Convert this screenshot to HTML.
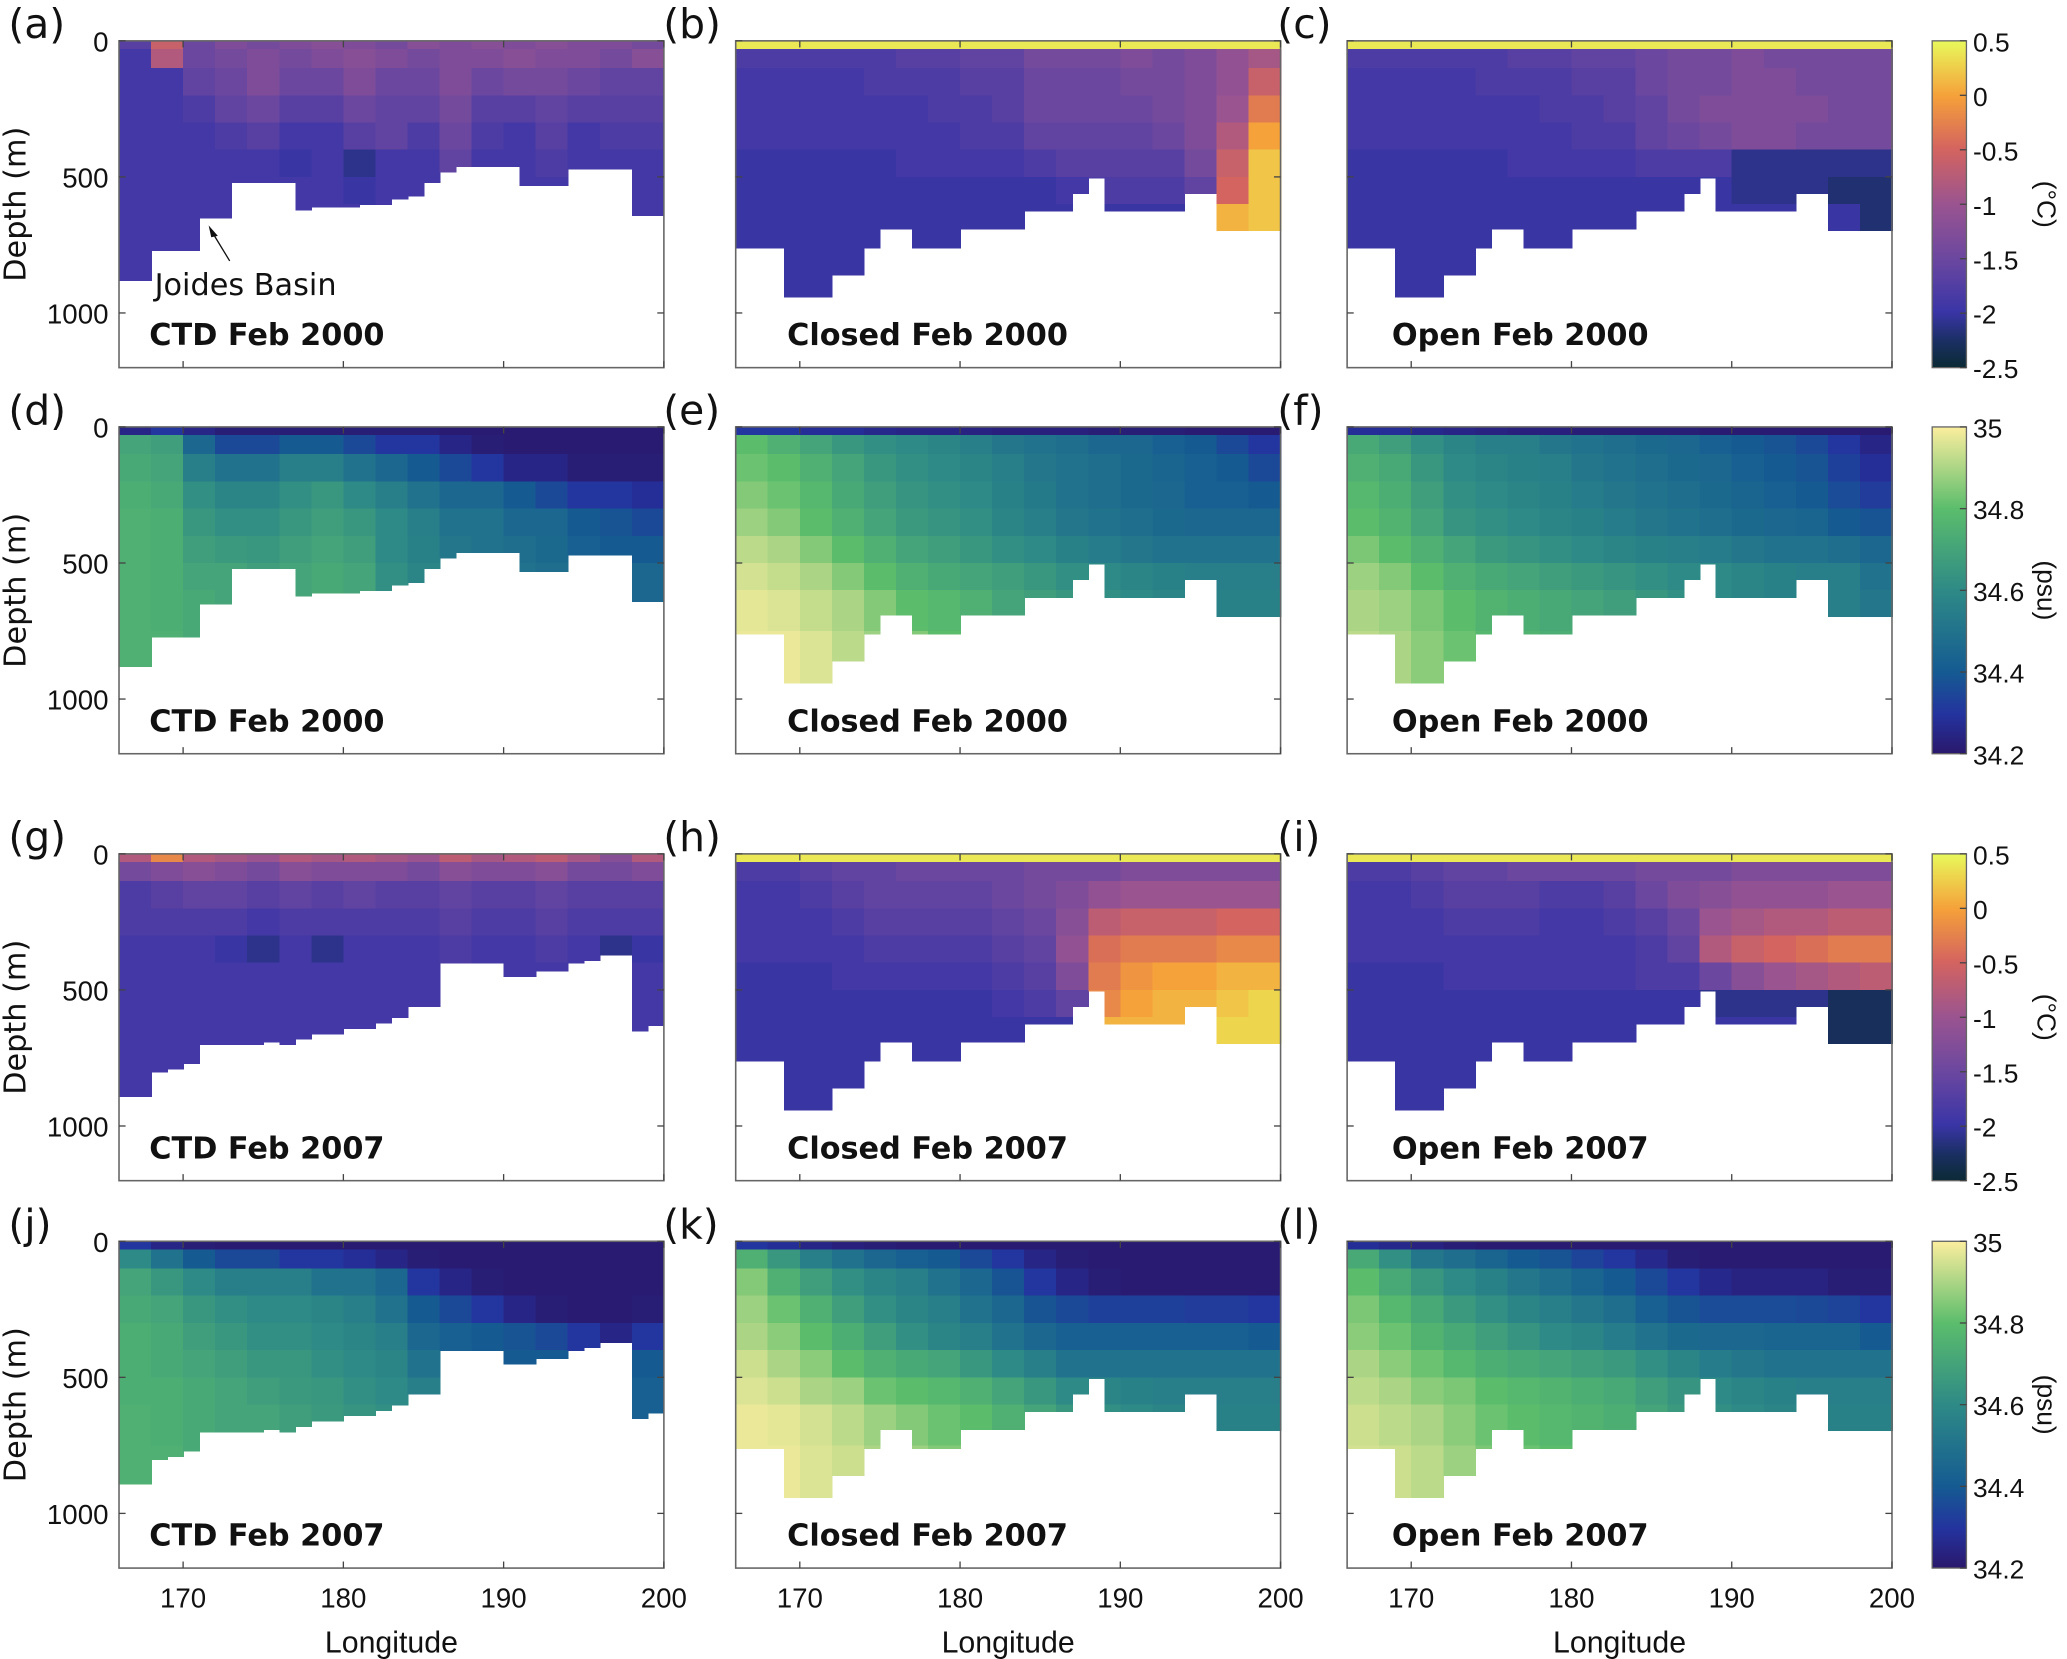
<!DOCTYPE html>
<html><head><meta charset="utf-8"><style>
html,body{margin:0;padding:0;background:#fff;}
svg{display:block;}
text{font-family:"DejaVu Sans","Liberation Sans",sans-serif;fill:#111;}
.cb{font-family:"Liberation Sans",sans-serif;}
</style></head><body>
<svg id="fig" width="2067" height="1659" viewBox="0 0 1568 1259" xmlns="http://www.w3.org/2000/svg">
<defs>
<linearGradient id="gT" x1="0" y1="1" x2="0" y2="0">
<stop offset="0" stop-color="#0b2a35"/><stop offset="0.08" stop-color="#1a2f62"/><stop offset="0.17" stop-color="#3a35a6"/><stop offset="0.33" stop-color="#6a47a0"/><stop offset="0.5" stop-color="#9a5490"/><stop offset="0.67" stop-color="#d4645f"/><stop offset="0.83" stop-color="#f5a03a"/><stop offset="1" stop-color="#e8f95b"/>
</linearGradient>
<linearGradient id="gS" x1="0" y1="1" x2="0" y2="0">
<stop offset="0" stop-color="#2a186c"/><stop offset="0.12" stop-color="#24339e"/><stop offset="0.25" stop-color="#155b92"/><stop offset="0.5" stop-color="#2e8a86"/><stop offset="0.75" stop-color="#5bbd6c"/><stop offset="1" stop-color="#fbee9e"/>
</linearGradient>
</defs>
<g id="plots"></g>
</svg>
<script>
// Data: depth layer edges (m), longitude bins (2 degree), bathymetry per 1 degree column
const layerEdges=[0,30,100,200,300,400,500,600,750,1000];
const lonStart=166, lonEnd=200;
const xTicks=[170,180,190,200];
const yTicks=[0,500,1000];
const tempTicks=[0.5,0,-0.5,-1,-1.5,-2,-2.5];
const salTicks=[35,34.8,34.6,34.4,34.2];
const bathyCTD2000=[880,880,770,770,770,650,650,520,520,520,520,620,610,610,610,600,600,580,570,520,480,460,460,460,460,530,530,530,470,470,470,470,640,640];
const bathyCTD2007=[890,890,800,790,770,700,700,700,700,690,700,680,660,660,640,640,620,600,560,560,400,400,400,400,450,450,430,430,400,390,370,370,650,630];
const bathyModel=[760,760,760,940,940,940,860,860,760,690,690,760,760,760,690,690,690,690,625,625,625,560,503,625,625,625,625,625,560,560,695,695,695,695];
const tA=[[-1.7,-0.6,-1.5,-1.3,-1.4,-1.3,-1.2,-1.3,-1.4,-1.2,-1.3,-1.2,-1.3,-1.2,-1.3,-1.3,-1.4],[-1.9,-0.8,-1.5,-1.4,-1.3,-1.4,-1.3,-1.2,-1.3,-1.4,-1.3,-1.3,-1.2,-1.3,-1.3,-1.4,-1.2],[-1.9,-1.9,-1.6,-1.5,-1.3,-1.5,-1.5,-1.3,-1.5,-1.5,-1.3,-1.5,-1.4,-1.4,-1.5,-1.6,-1.6],[-1.9,-1.9,-1.8,-1.6,-1.5,-1.7,-1.7,-1.5,-1.6,-1.6,-1.4,-1.7,-1.7,-1.6,-1.7,-1.7,-1.7],[-1.9,-1.9,-1.9,-1.8,-1.7,-1.9,-1.9,-1.7,-1.6,-1.8,-1.5,-1.8,-1.9,-1.7,-1.9,-1.8,-1.8],[-1.9,-1.9,-1.9,-1.9,-1.9,-2.0,-1.9,-2.1,-1.9,-1.9,-1.6,-1.9,-1.9,-1.8,-1.9,-1.9,-1.9],[-1.9,-1.9,-1.9,-1.9,-1.9,-1.9,-1.9,-2.0,-1.9,-1.9,-1.9,-1.9,-1.9,-1.9,-1.9,-1.9,-1.9],[-1.9,-1.9,-1.9,-1.9,-1.9,-1.9,-1.9,-1.9,-1.9,-1.9,-1.9,-1.9,-1.9,-1.9,-1.9,-1.9,-1.9],[-1.9,-1.9,-1.9,-1.9,-1.9,-1.9,-1.9,-1.9,-1.9,-1.9,-1.9,-1.9,-1.9,-1.9,-1.9,-1.9,-1.9]];
const tB=[[0.4,0.4,0.4,0.4,0.4,0.4,0.4,0.4,0.4,0.4,0.4,0.4,0.4,0.4,0.4,0.4,0.4],[-1.8,-1.8,-1.8,-1.8,-1.8,-1.7,-1.7,-1.6,-1.6,-1.4,-1.4,-1.4,-1.3,-1.4,-1.3,-1.1,-0.9],[-1.9,-1.9,-1.9,-1.9,-1.8,-1.8,-1.8,-1.7,-1.7,-1.5,-1.5,-1.5,-1.4,-1.4,-1.3,-1.1,-0.6],[-1.9,-1.9,-1.9,-1.9,-1.9,-1.9,-1.8,-1.8,-1.7,-1.5,-1.5,-1.5,-1.5,-1.4,-1.3,-1.0,-0.3],[-1.9,-1.9,-1.9,-1.9,-1.9,-1.9,-1.9,-1.8,-1.8,-1.6,-1.6,-1.6,-1.6,-1.5,-1.3,-0.8,0.0],[-2,-2,-2,-2,-2,-1.9,-1.9,-1.9,-1.9,-1.8,-1.7,-1.7,-1.7,-1.7,-1.4,-0.6,0.2],[-2,-2,-2,-2,-2,-2,-2,-2,-2,-2,-1.9,-1.8,-1.8,-1.8,-1.6,-0.5,0.2],[-2,-2,-2,-2,-2,-2,-2,-2,-2,-2,-2,-2,-2,-2,-2,0.1,0.2],[-2,-2,-2,-2,-2,-2,-2,-2,-2,-2,-2,-2,-2,-2,-2,-2,-2]];
const tC=[[0.4,0.4,0.4,0.4,0.4,0.4,0.4,0.4,0.4,0.4,0.4,0.4,0.4,0.4,0.4,0.4,0.4],[-1.8,-1.8,-1.8,-1.8,-1.8,-1.7,-1.7,-1.6,-1.6,-1.5,-1.4,-1.4,-1.3,-1.4,-1.4,-1.4,-1.4],[-1.9,-1.9,-1.9,-1.9,-1.8,-1.8,-1.8,-1.7,-1.7,-1.5,-1.4,-1.4,-1.3,-1.3,-1.4,-1.4,-1.4],[-1.9,-1.9,-1.9,-1.9,-1.9,-1.9,-1.8,-1.8,-1.7,-1.6,-1.4,-1.3,-1.3,-1.3,-1.3,-1.4,-1.4],[-1.9,-1.9,-1.9,-1.9,-1.9,-1.9,-1.9,-1.8,-1.8,-1.6,-1.5,-1.4,-1.3,-1.3,-1.4,-1.4,-1.4],[-2,-2,-2,-2,-2,-1.9,-1.9,-1.9,-1.9,-1.8,-1.8,-1.8,-2.1,-2.1,-2.1,-2.1,-2.1],[-2,-2,-2,-2,-2,-2,-2,-2,-2,-2,-2,-2,-2.1,-2.1,-2.1,-2.2,-2.2],[-2,-2,-2,-2,-2,-2,-2,-2,-2,-2,-2,-2,-2,-2,-2,-2,-2.2],[-2,-2,-2,-2,-2,-2,-2,-2,-2,-2,-2,-2,-2,-2,-2,-2,-2]];
const tG=[[-0.8,-0.2,-0.8,-0.9,-1.0,-0.8,-0.9,-0.8,-0.9,-1.0,-0.7,-0.9,-0.8,-0.7,-0.9,-1.2,-0.8],[-1.4,-1.3,-1.2,-1.3,-1.4,-1.2,-1.3,-1.3,-1.3,-1.4,-1.2,-1.3,-1.3,-1.2,-1.4,-1.4,-1.3],[-1.8,-1.7,-1.6,-1.6,-1.7,-1.6,-1.7,-1.6,-1.7,-1.7,-1.6,-1.7,-1.7,-1.6,-1.7,-1.7,-1.7],[-1.8,-1.8,-1.8,-1.8,-1.9,-1.8,-1.8,-1.8,-1.8,-1.8,-1.7,-1.8,-1.8,-1.7,-1.8,-1.8,-1.8],[-1.9,-1.9,-1.9,-2.0,-2.1,-1.9,-2.1,-1.9,-1.9,-1.9,-1.8,-1.9,-1.9,-1.8,-1.9,-2.1,-2.0],[-1.9,-1.9,-1.9,-1.9,-1.9,-1.9,-1.9,-1.9,-1.9,-1.9,-1.9,-1.9,-1.9,-1.9,-1.9,-1.9,-1.9],[-1.9,-1.9,-1.9,-1.9,-1.9,-1.9,-1.9,-1.9,-1.9,-1.9,-1.9,-1.9,-1.9,-1.9,-1.9,-1.9,-1.9],[-1.9,-1.9,-1.9,-1.9,-1.9,-1.9,-1.9,-1.9,-1.9,-1.9,-1.9,-1.9,-1.9,-1.9,-1.9,-1.9,-1.9],[-1.9,-1.9,-1.9,-1.9,-1.9,-1.9,-1.9,-1.9,-1.9,-1.9,-1.9,-1.9,-1.9,-1.9,-1.9,-1.9,-1.9]];
const tH=[[0.4,0.4,0.4,0.4,0.4,0.4,0.4,0.4,0.4,0.4,0.4,0.4,0.4,0.4,0.4,0.4,0.4],[-1.8,-1.8,-1.7,-1.6,-1.6,-1.5,-1.5,-1.5,-1.5,-1.4,-1.4,-1.4,-1.3,-1.3,-1.3,-1.3,-1.3],[-1.9,-1.9,-1.8,-1.7,-1.6,-1.6,-1.6,-1.6,-1.5,-1.4,-1.3,-1.1,-1.0,-1.0,-1.0,-1.0,-1.0],[-1.9,-1.9,-1.9,-1.8,-1.7,-1.7,-1.7,-1.7,-1.6,-1.5,-1.2,-0.7,-0.6,-0.6,-0.6,-0.5,-0.5],[-1.9,-1.9,-1.9,-1.9,-1.8,-1.8,-1.8,-1.8,-1.7,-1.6,-1.1,-0.4,-0.3,-0.3,-0.3,-0.2,-0.2],[-2,-2,-2,-1.9,-1.9,-1.9,-1.9,-1.9,-1.8,-1.7,-1.3,-0.3,-0.1,0,0,0.1,0.1],[-2,-2,-2,-2,-2,-2,-2,-2,-1.9,-1.8,-1.6,-0.2,0,0.1,0.1,0.2,0.3],[-2,-2,-2,-2,-2,-2,-2,-2,-2,-2,-2,0.1,0.1,0.1,0.2,0.3,0.3],[-2,-2,-2,-2,-2,-2,-2,-2,-2,-2,-2,-2,-2,-2,-2,-2,-2]];
const tI=[[0.4,0.4,0.4,0.4,0.4,0.4,0.4,0.4,0.4,0.4,0.4,0.4,0.4,0.4,0.4,0.4,0.4],[-1.8,-1.8,-1.7,-1.6,-1.6,-1.5,-1.5,-1.5,-1.5,-1.4,-1.4,-1.4,-1.3,-1.3,-1.3,-1.3,-1.3],[-1.9,-1.9,-1.8,-1.7,-1.7,-1.7,-1.8,-1.8,-1.7,-1.5,-1.3,-1.2,-1.1,-1.1,-1.1,-1.0,-1.0],[-1.9,-1.9,-1.9,-1.8,-1.8,-1.8,-1.9,-1.9,-1.8,-1.7,-1.5,-1.0,-0.9,-0.8,-0.8,-0.7,-0.7],[-1.9,-1.9,-1.9,-1.9,-1.9,-1.9,-1.9,-1.9,-1.9,-1.8,-1.6,-0.8,-0.6,-0.5,-0.4,-0.3,-0.3],[-2,-2,-2,-1.9,-1.9,-1.9,-1.9,-1.9,-1.9,-1.8,-1.8,-1.5,-1.2,-1.0,-0.9,-0.8,-0.7],[-2,-2,-2,-2,-2,-2,-2,-2,-2,-2,-2,-2.1,-2.1,-2.1,-2.1,-2.3,-2.3],[-2,-2,-2,-2,-2,-2,-2,-2,-2,-2,-2,-2,-2,-2,-2,-2.3,-2.3],[-2,-2,-2,-2,-2,-2,-2,-2,-2,-2,-2,-2,-2,-2,-2,-2,-2]];
const sD=[[34.25,34.3,34.25,34.22,34.22,34.22,34.22,34.22,34.22,34.22,34.21,34.21,34.21,34.21,34.21,34.21,34.21],[34.7,34.68,34.45,34.35,34.35,34.4,34.4,34.35,34.3,34.3,34.25,34.22,34.21,34.21,34.21,34.21,34.21],[34.72,34.7,34.55,34.5,34.5,34.55,34.55,34.5,34.45,34.4,34.35,34.3,34.25,34.25,34.22,34.22,34.22],[34.74,34.72,34.62,34.58,34.58,34.62,34.65,34.6,34.55,34.5,34.45,34.45,34.4,34.35,34.3,34.3,34.28],[34.75,34.74,34.65,34.62,34.62,34.65,34.68,34.65,34.6,34.55,34.5,34.5,34.45,34.45,34.4,34.38,34.35],[34.75,34.74,34.68,34.66,34.65,34.68,34.7,34.68,34.6,34.56,34.52,34.5,34.48,34.46,34.42,34.4,34.4],[34.75,34.74,34.7,34.7,34.68,34.7,34.72,34.7,34.62,34.58,34.55,34.52,34.5,34.48,34.45,34.45,34.45],[34.75,34.74,34.72,34.7,34.7,34.7,34.72,34.7,34.65,34.6,34.55,34.52,34.5,34.48,34.45,34.45,34.45],[34.75,34.75,34.72,34.7,34.7,34.7,34.72,34.7,34.65,34.6,34.55,34.52,34.5,34.48,34.45,34.45,34.45]];
const sE=[[34.3,34.3,34.28,34.28,34.26,34.25,34.25,34.24,34.23,34.23,34.23,34.22,34.22,34.22,34.21,34.21,34.21],[34.8,34.75,34.7,34.65,34.62,34.6,34.58,34.55,34.52,34.5,34.48,34.45,34.45,34.42,34.4,34.35,34.3],[34.82,34.8,34.75,34.7,34.65,34.62,34.6,34.58,34.55,34.52,34.5,34.48,34.46,34.44,34.42,34.4,34.35],[34.85,34.82,34.78,34.72,34.68,34.64,34.62,34.6,34.56,34.53,34.5,34.48,34.46,34.45,34.42,34.42,34.4],[34.88,34.85,34.8,34.75,34.7,34.66,34.64,34.62,34.58,34.55,34.52,34.5,34.48,34.46,34.45,34.45,34.45],[34.92,34.9,34.85,34.8,34.75,34.7,34.68,34.65,34.62,34.6,34.56,34.54,34.52,34.5,34.5,34.5,34.5],[34.95,34.93,34.9,34.85,34.8,34.75,34.72,34.7,34.68,34.65,34.62,34.6,34.58,34.56,34.55,34.55,34.55],[34.97,34.96,34.93,34.9,34.85,34.8,34.78,34.75,34.7,34.68,34.65,34.62,34.6,34.58,34.56,34.56,34.56],[34.98,34.98,34.96,34.92,34.88,34.85,34.8,34.78,34.75,34.7,34.68,34.65,34.62,34.6,34.58,34.58,34.58]];
const sF=[[34.28,34.28,34.26,34.25,34.24,34.23,34.23,34.22,34.22,34.22,34.22,34.21,34.21,34.21,34.21,34.21,34.21],[34.72,34.68,34.62,34.58,34.55,34.55,34.52,34.5,34.48,34.46,34.45,34.42,34.4,34.38,34.35,34.3,34.25],[34.75,34.72,34.65,34.6,34.58,34.56,34.55,34.52,34.5,34.48,34.46,34.45,34.42,34.4,34.38,34.33,34.28],[34.78,34.74,34.68,34.62,34.6,34.58,34.56,34.54,34.52,34.5,34.48,34.46,34.44,34.42,34.4,34.36,34.32],[34.8,34.76,34.7,34.64,34.62,34.6,34.58,34.56,34.54,34.52,34.5,34.48,34.46,34.45,34.44,34.4,34.38],[34.84,34.8,34.75,34.7,34.66,34.64,34.62,34.6,34.58,34.56,34.55,34.54,34.52,34.5,34.5,34.48,34.45],[34.88,34.85,34.8,34.75,34.72,34.7,34.68,34.66,34.64,34.62,34.6,34.6,34.58,34.56,34.55,34.55,34.5],[34.9,34.88,34.84,34.8,34.76,34.74,34.72,34.7,34.68,34.65,34.62,34.6,34.58,34.56,34.55,34.55,34.52],[34.92,34.9,34.86,34.82,34.78,34.76,34.74,34.72,34.7,34.66,34.64,34.62,34.6,34.58,34.56,34.56,34.52]];
const sJ=[[34.3,34.25,34.22,34.21,34.21,34.21,34.21,34.21,34.21,34.21,34.21,34.21,34.21,34.21,34.21,34.21,34.21],[34.6,34.5,34.4,34.35,34.35,34.3,34.3,34.28,34.25,34.22,34.21,34.21,34.21,34.21,34.21,34.21,34.21],[34.7,34.65,34.6,34.55,34.55,34.55,34.5,34.5,34.45,34.3,34.25,34.22,34.21,34.21,34.21,34.21,34.21],[34.72,34.7,34.65,34.62,34.6,34.6,34.58,34.55,34.5,34.4,34.35,34.3,34.25,34.22,34.21,34.21,34.22],[34.74,34.72,34.68,34.65,34.62,34.62,34.6,34.58,34.55,34.45,34.42,34.4,34.38,34.35,34.3,34.25,34.3],[34.74,34.72,34.7,34.68,34.65,34.65,34.62,34.6,34.58,34.5,34.45,34.42,34.4,34.4,34.4,34.35,34.4],[34.74,34.74,34.72,34.7,34.68,34.66,34.65,34.62,34.6,34.55,34.5,34.45,34.42,34.42,34.42,34.4,34.42],[34.75,34.74,34.72,34.7,34.7,34.68,34.66,34.64,34.62,34.55,34.5,34.45,34.42,34.42,34.42,34.4,34.42],[34.75,34.75,34.72,34.7,34.7,34.68,34.66,34.64,34.62,34.55,34.5,34.45,34.42,34.42,34.42,34.4,34.42]];
const sK=[[34.3,34.28,34.25,34.23,34.22,34.21,34.21,34.21,34.21,34.21,34.21,34.21,34.21,34.21,34.21,34.21,34.21],[34.75,34.65,34.55,34.5,34.45,34.42,34.4,34.35,34.3,34.25,34.22,34.21,34.21,34.21,34.21,34.21,34.21],[34.85,34.75,34.68,34.62,34.58,34.55,34.5,34.45,34.38,34.3,34.25,34.22,34.21,34.21,34.21,34.21,34.21],[34.88,34.82,34.75,34.68,34.62,34.58,34.55,34.5,34.45,34.38,34.35,34.33,34.33,34.33,34.32,34.32,34.3],[34.9,34.86,34.8,34.74,34.68,34.62,34.58,34.55,34.5,34.45,34.42,34.42,34.42,34.42,34.42,34.42,34.4],[34.94,34.9,34.86,34.8,34.75,34.72,34.7,34.65,34.6,34.55,34.5,34.5,34.5,34.5,34.5,34.5,34.5],[34.96,34.94,34.9,34.88,34.82,34.8,34.78,34.75,34.7,34.65,34.6,34.58,34.56,34.55,34.55,34.55,34.55],[34.98,34.97,34.95,34.92,34.88,34.85,34.82,34.8,34.75,34.7,34.65,34.62,34.6,34.58,34.56,34.56,34.56],[34.98,34.98,34.96,34.94,34.9,34.88,34.85,34.82,34.78,34.72,34.68,34.64,34.62,34.6,34.58,34.58,34.58]];
const sL=[[34.28,34.26,34.24,34.22,34.21,34.21,34.21,34.21,34.21,34.21,34.21,34.21,34.21,34.21,34.21,34.21,34.21],[34.72,34.62,34.52,34.48,34.44,34.4,34.38,34.34,34.3,34.26,34.22,34.21,34.21,34.21,34.21,34.21,34.21],[34.8,34.72,34.65,34.6,34.56,34.52,34.48,34.44,34.4,34.35,34.3,34.26,34.24,34.24,34.24,34.22,34.22],[34.84,34.78,34.72,34.66,34.62,34.58,34.55,34.52,34.48,34.42,34.38,34.36,34.36,34.36,34.35,34.34,34.3],[34.86,34.82,34.76,34.72,34.68,34.64,34.6,34.58,34.54,34.5,34.46,34.45,34.45,34.44,34.44,34.44,34.4],[34.9,34.86,34.82,34.78,34.74,34.72,34.7,34.68,34.66,34.62,34.58,34.54,34.52,34.5,34.5,34.5,34.5],[34.92,34.9,34.86,34.84,34.8,34.78,34.76,34.74,34.72,34.68,34.64,34.6,34.58,34.56,34.55,34.55,34.55],[34.94,34.92,34.9,34.86,34.82,34.8,34.78,34.76,34.74,34.7,34.66,34.62,34.6,34.58,34.56,34.56,34.56],[34.95,34.94,34.92,34.88,34.84,34.82,34.8,34.78,34.76,34.72,34.68,34.64,34.62,34.6,34.58,34.58,34.58]];

const NS='http://www.w3.org/2000/svg';
const root=document.getElementById('plots');
const colX=[90,558,1022], rowY=[31,324,648,942];
const titleDX=[23,39,34];
const PW=413.5, PH=248, pxPerM=0.2065;
function mk(tag,attrs,parent){const e=document.createElementNS(NS,tag);for(const k in attrs)e.setAttribute(k,attrs[k]);(parent||root).appendChild(e);return e;}
function hex(h){return [parseInt(h.slice(1,3),16),parseInt(h.slice(3,5),16),parseInt(h.slice(5,7),16)];}
const tStops=[[0,'#0b2a35'],[0.08,'#1a2f62'],[0.17,'#3a35a6'],[0.33,'#6a47a0'],[0.5,'#9a5490'],[0.67,'#d4645f'],[0.83,'#f5a03a'],[1,'#e8f95b']];
const sStops=[[0,'#2a186c'],[0.12,'#24339e'],[0.25,'#155b92'],[0.5,'#2e8a86'],[0.75,'#5bbd6c'],[1,'#fbee9e']];
function cmap(stops,t){t=Math.max(0,Math.min(1,t));for(let i=1;i<stops.length;i++){if(t<=stops[i][0]){const a=stops[i-1],b=stops[i];const f=(t-a[0])/(b[0]-a[0]);const ca=hex(a[1]),cb=hex(b[1]);return 'rgb('+ca.map((v,j)=>Math.round(v+(cb[j]-v)*f)).join(',')+')';}}return stops[stops.length-1][1];}
function color(kind,v){return kind==='T'?cmap(tStops,(v+2.5)/3):cmap(sStops,(v-34.2)/0.8);}

const panels=[
{l:'(a)',c:0,r:0,k:'T',g:tA,b:bathyCTD2000,t:'CTD  Feb 2000'},
{l:'(b)',c:1,r:0,k:'T',g:tB,b:bathyModel,t:'Closed Feb 2000'},
{l:'(c)',c:2,r:0,k:'T',g:tC,b:bathyModel,t:'Open Feb 2000'},
{l:'(d)',c:0,r:1,k:'S',g:sD,b:bathyCTD2000,t:'CTD  Feb 2000'},
{l:'(e)',c:1,r:1,k:'S',g:sE,b:bathyModel,t:'Closed Feb 2000'},
{l:'(f)',c:2,r:1,k:'S',g:sF,b:bathyModel,t:'Open  Feb 2000'},
{l:'(g)',c:0,r:2,k:'T',g:tG,b:bathyCTD2007,t:'CTD Feb 2007'},
{l:'(h)',c:1,r:2,k:'T',g:tH,b:bathyModel,t:'Closed Feb 2007'},
{l:'(i)',c:2,r:2,k:'T',g:tI,b:bathyModel,t:'Open Feb 2007'},
{l:'(j)',c:0,r:3,k:'S',g:sJ,b:bathyCTD2007,t:'CTD Feb 2007'},
{l:'(k)',c:1,r:3,k:'S',g:sK,b:bathyModel,t:'Closed Feb 2007'},
{l:'(l)',c:2,r:3,k:'S',g:sL,b:bathyModel,t:'Open Feb 2007'}];

panels.forEach(p=>{
  const x0=colX[p.c], y0=rowY[p.r];
  const xs=lon=>x0+(lon-lonStart)*PW/(lonEnd-lonStart);
  const ys=d=>y0+d*pxPerM;
  const g=mk('g',{});
  
  
  const cells=mk('g',{'shape-rendering':'crispEdges'},g);
  for(let i=0;i<p.b.length;i++){
    const bottom=p.b[i];
    for(let k=0;k<layerEdges.length-1;k++){
      const top=layerEdges[k]; if(top>=bottom) break;
      const bot=Math.min(bottom,layerEdges[k+1]);
      const v=p.g[k][Math.floor(i/2)];
      const r=mk('rect',{x:xs(lonStart+i),y:ys(top),width:xs(lonStart+i+1)-xs(lonStart+i)+0.6,height:ys(bot)-ys(top)+0.6,fill:color(p.k,v)},cells);
      
      
    }
  }
  const box=mk('rect',{x:x0,y:y0,width:PW,height:PH,fill:'none',stroke:'#666','stroke-width':1.2},g);
  
  
  xTicks.forEach(t=>{const x=xs(t);mk('line',{x1:x,x2:x,y1:y0+PH,y2:y0+PH-5,stroke:'#444'},g);mk('line',{x1:x,x2:x,y1:y0,y2:y0+5,stroke:'#444'},g);
    if(p.r===3){const tx=mk('text',{x:x,y:y0+PH+30,'text-anchor':'middle','font-size':21,class:'cb'},g);tx.textContent=t;
      
      }});
  yTicks.forEach(t=>{const y=ys(t);mk('line',{x1:x0,x2:x0+5,y1:y,y2:y,stroke:'#444'},g);mk('line',{x1:x0+PW,x2:x0+PW-5,y1:y,y2:y,stroke:'#444'},g);
    if(p.c===0){const tx=mk('text',{x:x0-8,y:y+8,'text-anchor':'end','font-size':21,class:'cb'},g);tx.textContent=t;
      
      }});
  const lt=mk('text',{x:p.c===0?6:(p.c===1?503:969),y:y0-2,'font-size':31},g);lt.textContent=p.l;
  
  
  const tt=mk('text',{x:x0+titleDX[p.c],y:y0+231,'font-size':23,'font-weight':'bold'},g);tt.textContent=p.t;
  
  
  if(p.c===0){const yl=mk('text',{x:0,y:0,'font-size':23,'text-anchor':'middle',transform:'translate(19,'+(y0+124)+') rotate(-90)'},g);yl.textContent='Depth (m)';
    
    }
  if(p.r===3){const xl=mk('text',{x:x0+PW/2,y:1254,'font-size':23,'text-anchor':'middle',class:'cb'},g);xl.textContent='Longitude';
    
    }
});
// annotation
const an=mk('g',{});


mk('line',{x1:174,y1:198,x2:160,y2:175,stroke:'#111','stroke-width':1},an);
mk('path',{d:'M158,171 L165,179 L160,180 Z',fill:'#111'},an);
const at=mk('text',{x:117,y:224,'font-size':23},an);at.textContent='Joides Basin';

// colorbars
[0,1,2,3].forEach(r=>{
  const y0=rowY[r], isT=(r%2===0);
  const g=mk('g',{});
  
  
  mk('rect',{x:1466,y:y0,width:26,height:PH,fill:isT?'url(#gT)':'url(#gS)',stroke:'#666','stroke-width':1},g);
  const ticks=isT?tempTicks:salTicks;
  const lo=isT?-2.5:34.2, hi=isT?0.5:35;
  ticks.forEach(t=>{const y=y0+(hi-t)/(hi-lo)*PH;
    mk('line',{x1:1492,x2:1487,y1:y,y2:y,stroke:'#444'},g);
    const tx=mk('text',{x:1497,y:y+8,'font-size':20,class:'cb'},g);tx.textContent=t;
    
    });
  const u=mk('text',{x:0,y:0,'font-size':20,'text-anchor':'middle',class:'cb',transform:'translate(1546,'+(y0+124)+') rotate(90)'},g);
  u.textContent=isT?'(°C)':'(psu)';
  
  
});
</script>
</body></html>
